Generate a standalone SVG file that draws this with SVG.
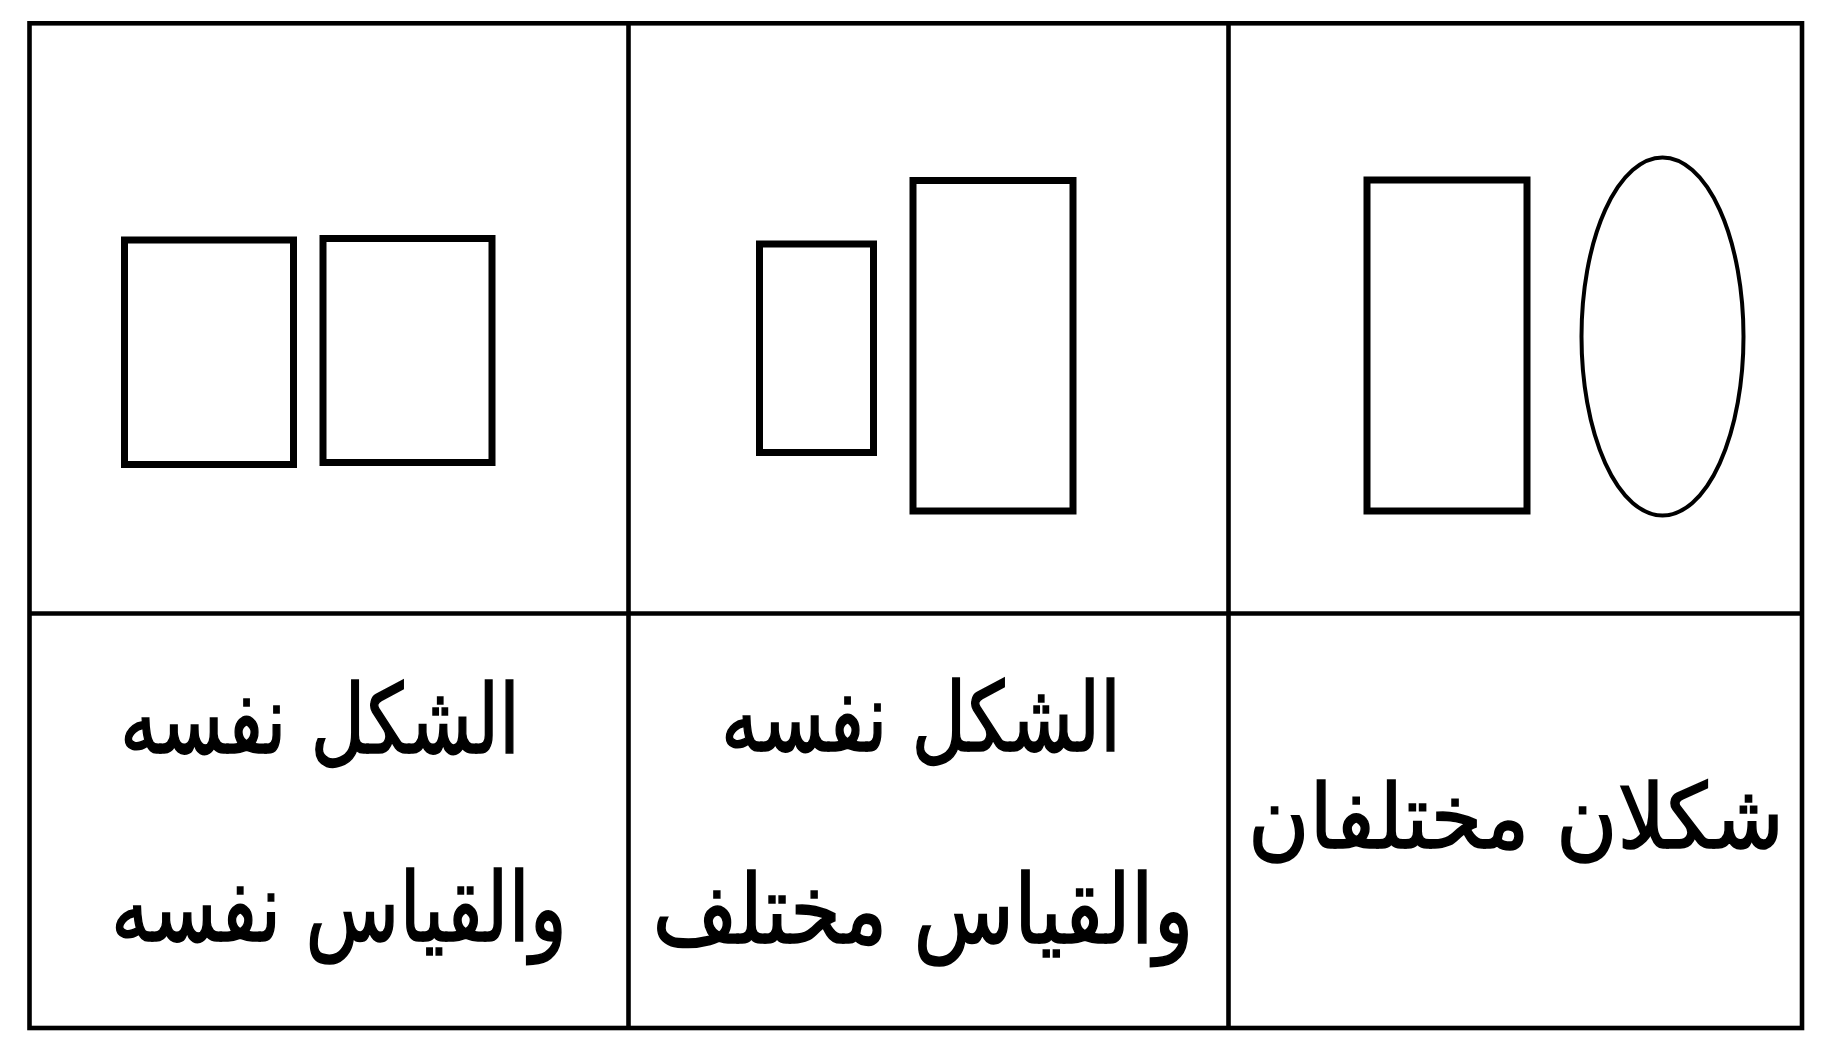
<svg xmlns="http://www.w3.org/2000/svg" width="1825" height="1059" viewBox="0 0 1825 1059">
<style>
.frame{fill:none;stroke:#000;stroke-width:4.6}
.shape{fill:none;stroke:#000;stroke-width:7}
.oval{fill:none;stroke:#000;stroke-width:4}
.lbl{font-family:"DejaVu Sans",sans-serif;font-size:96px;fill:#000;stroke:#000;stroke-width:1.6;text-anchor:middle}
</style>
<rect width="1825" height="1059" fill="#fff"/>
<g id="table">
<rect class="frame" x="29.5" y="23.3" width="1772.5" height="1004.7"/>
<line class="frame" x1="628.5" y1="23.3" x2="628.5" y2="1028"/>
<line class="frame" x1="1228.5" y1="23.3" x2="1228.5" y2="1028"/>
<line class="frame" x1="29.5" y1="613.5" x2="1802" y2="613.5"/>
</g>
<g id="cell-same-same">
<rect class="shape" x="124.5" y="240" width="169" height="224.5"/>
<rect class="shape" x="323" y="238.5" width="169" height="224"/>
<text class="lbl" x="320" y="753" textLength="400" lengthAdjust="spacingAndGlyphs">الشكل نفسه</text>
<text class="lbl" x="339" y="941" textLength="456" lengthAdjust="spacingAndGlyphs">والقياس نفسه</text>
</g>
<g id="cell-same-diff">
<rect class="shape" x="759.5" y="244" width="114" height="208.5"/>
<rect class="shape" x="913" y="180.5" width="160" height="330.5"/>
<text class="lbl" x="921" y="751" textLength="400" lengthAdjust="spacingAndGlyphs">الشكل نفسه</text>
<text class="lbl" x="923" y="943" textLength="541" lengthAdjust="spacingAndGlyphs">والقياس مختلف</text>
</g>
<g id="cell-diff">
<rect class="shape" x="1367" y="180" width="160" height="331"/>
<ellipse class="oval" cx="1662.5" cy="336.5" rx="81" ry="179"/>
<text class="lbl" x="1516" y="848" style="font-size:90px" textLength="536" lengthAdjust="spacingAndGlyphs">شكلان مختلفان</text>
</g>
</svg>
